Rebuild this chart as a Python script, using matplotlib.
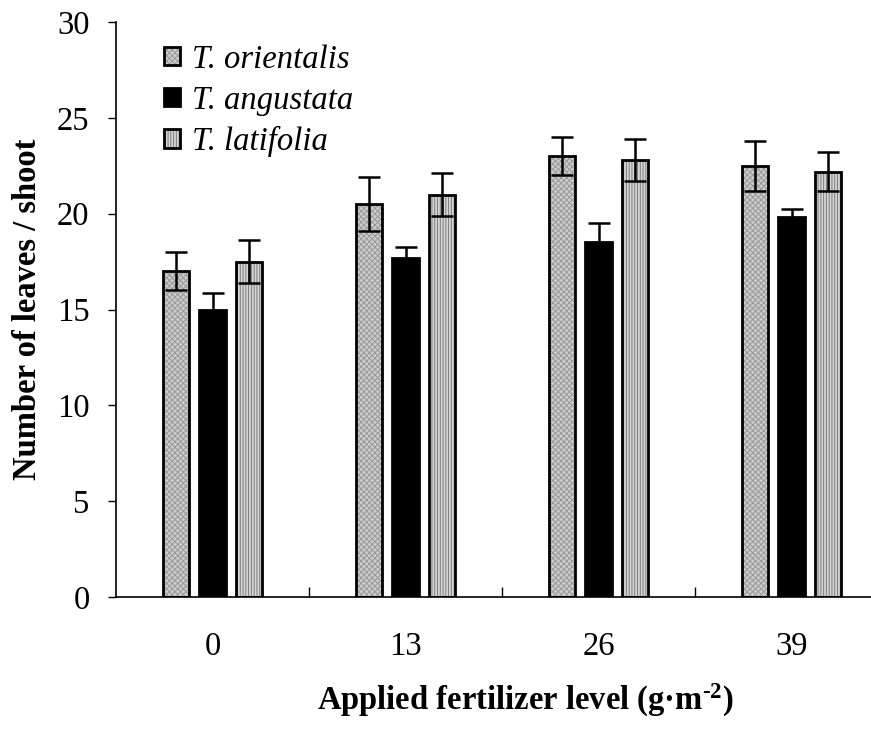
import matplotlib
matplotlib.use("Agg")
import matplotlib.pyplot as plt
import numpy as np

levels = ["0", "13", "26", "39"]
species = ["T. orientalis", "T. angustata", "T. latifolia"]
means = {
    "T. orientalis": [17.0, 20.5, 23.0, 22.5],
    "T. angustata": [15.0, 17.7, 18.5, 19.8],
    "T. latifolia": [17.5, 21.0, 22.8, 22.2],
}
errs = {
    "T. orientalis": [1.0, 1.4, 1.0, 1.3],
    "T. angustata": [0.85, 0.55, 1.0, 0.45],
    "T. latifolia": [1.1, 1.1, 1.1, 1.0],
}

plt.rcParams['font.family'] = ['Liberation Serif', 'DejaVu Serif']
plt.rcParams['hatch.linewidth'] = 0.7
plt.rcParams['mathtext.fontset'] = 'custom'
plt.rcParams['mathtext.rm'] = 'Liberation Serif:bold'
plt.rcParams['mathtext.bf'] = 'Liberation Serif:bold'
plt.rcParams['mathtext.it'] = 'Liberation Serif:bold:italic'

FS = 23.5

fig = plt.figure(figsize=(8.71, 7.30), dpi=100)
ax = fig.add_axes([116/871, 133/730, 772/871, 575/730])

styles = [
    dict(facecolor='#cccccc', hatch='xxxxxx', hcolor='#999999'),
    dict(facecolor='black', hatch=None, hcolor='black'),
    dict(facecolor='#d6d6d6', hatch='||||||', hcolor='#7a7a7a'),
]
x = np.arange(len(levels))
width = 0.135
offs = [-0.19, 0.0, 0.19]
for sp, st, off in zip(species, styles, offs):
    bars = ax.bar(x + off, means[sp], width, facecolor=st['facecolor'],
                  edgecolor='black', linewidth=2, hatch=st['hatch'], label=sp, zorder=2)
    if st['hatch']:
        for b in bars:
            b._hatch_color = matplotlib.colors.to_rgba(st['hcolor'])
    ax.errorbar(x + off, means[sp], yerr=errs[sp], fmt='none', ecolor='black',
                elinewidth=1.8, capsize=8, capthick=1.8, zorder=3)

ax.set_xlim(-0.5, 3.5)
ax.set_ylim(0, 30)
ax.set_yticks(range(0, 31, 5))
ax.set_xticks(x)
ax.set_xticklabels(levels)
ax.set_xticks([0.5, 1.5, 2.5], minor=True)
ax.tick_params(axis='x', which='major', length=0, pad=25, labelsize=FS)
ax.tick_params(axis='x', which='minor', direction='in', length=7, width=1)
ax.tick_params(axis='y', direction='out', length=6, width=1, labelsize=FS, pad=13)
for s in ['top', 'right']:
    ax.spines[s].set_visible(False)
for s in ['left', 'bottom']:
    ax.spines[s].set_linewidth(1.2)

ax.set_ylabel("Number of leaves / shoot", fontsize=FS, fontweight='bold')
ax.yaxis.set_label_coords(-73/772, 0.5)
ax.set_xlabel("Applied fertilizer level (g\u00b7m$^{\\text{-}2}$)", fontsize=FS,
              fontweight='bold')
ax.xaxis.set_label_coords(0.53, -0.148)

leg = ax.legend(loc='upper left', bbox_to_anchor=(0.045, 0.984), frameon=False,
                prop={'style': 'italic', 'size': FS}, handlelength=0.5,
                handleheight=0.5, handletextpad=0.35, labelspacing=0.32,
                borderaxespad=0.0)

fig.savefig("out.png", dpi=100)
